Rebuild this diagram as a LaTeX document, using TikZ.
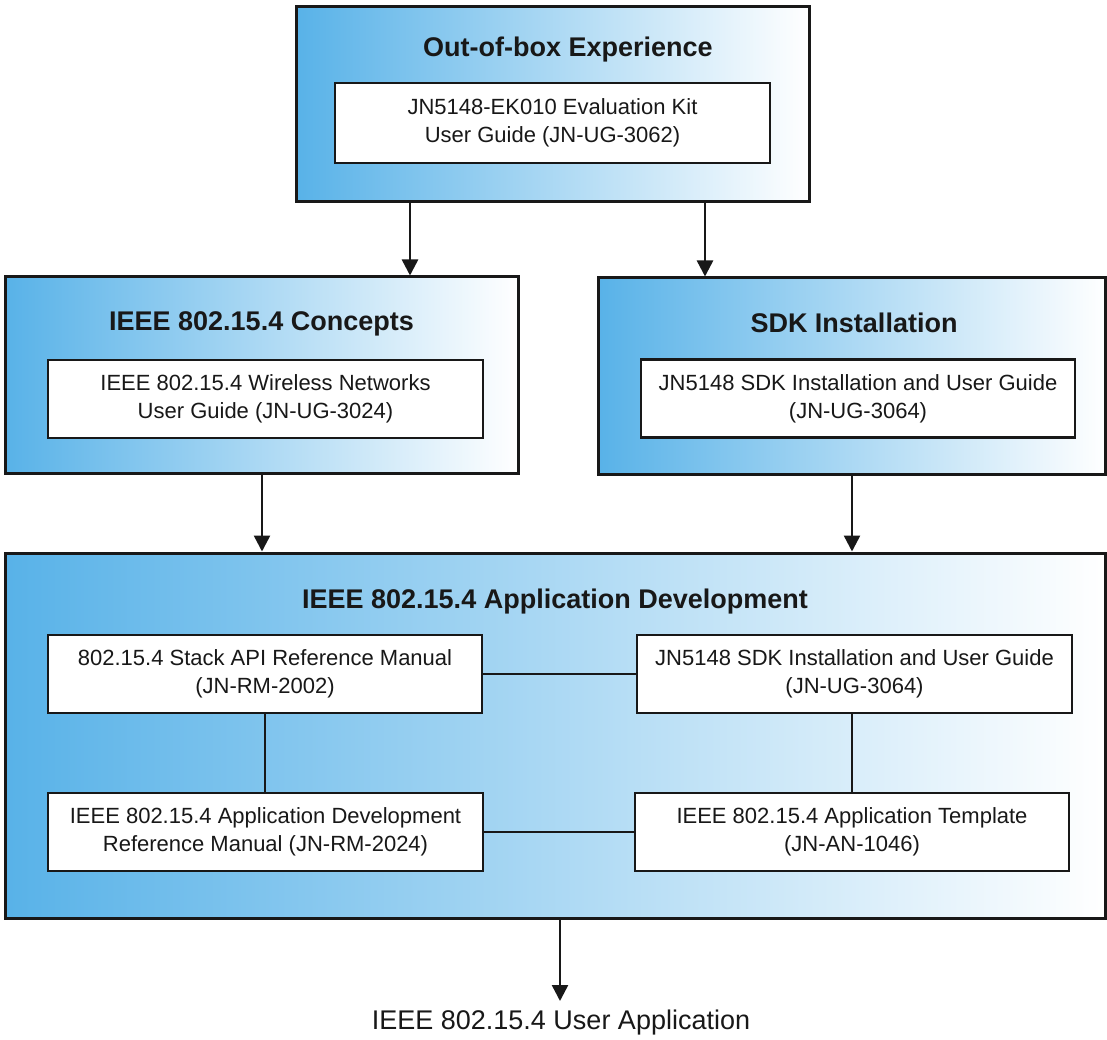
\documentclass[tikz,border=0pt]{standalone}
\usepackage{fontspec}
\setmainfont{Liberation Sans}
\usetikzlibrary{arrows.meta}
\definecolor{boxblue}{RGB}{88,178,232}
\definecolor{boxmid}{RGB}{172,216,245}
\definecolor{ink}{RGB}{24,24,24}
\begin{document}
\begin{tikzpicture}[x=1pt,y=-1pt,
  outerbox/.style={draw=ink, line width=3pt, left color=boxblue, middle color=boxmid, right color=white, inner sep=0pt},
  docbox/.style={draw=ink, line width=2.6pt, fill=white, inner sep=0pt, align=center, text=ink,
    font=\fontsize{22}{28}\selectfont, minimum height=78pt},
  titletext/.style={anchor=base, text=ink, inner sep=0pt, font=\fontsize{27}{32}\selectfont\bfseries},
  link/.style={draw=ink, line width=2.5pt},
  arr/.style={draw=ink, line width=2.5pt, -{Triangle[width=16pt,length=16pt]}}
]
\useasboundingbox (0,0) rectangle (1107,1040);
\fill[white] (0,0) rectangle (1107,1040);

% outer boxes
\node[outerbox, minimum width=513pt, minimum height=195pt] (oob) at (552.5,104.5) {};
\node[outerbox, minimum width=513pt, minimum height=196pt] (concepts) at (261.5,375) {};
\node[outerbox, minimum width=507pt, minimum height=196pt] (sdk) at (851.5,376) {};
\node[outerbox, minimum width=1100pt, minimum height=365pt] (appdev) at (555,735.5) {};

% titles
\node[titletext] (oobtitle) at (568,56.5) {Out-of-box Experience};
\node[titletext] (contitle) at (261.5,330) {IEEE 802.15.4 Concepts};
\node[titletext] (sdktitle) at (854,332) {SDK Installation};
\node[titletext] (apptitle) at (555,608.5) {IEEE 802.15.4 Application Development};

% document boxes
\node[docbox, minimum width=435pt, minimum height=80pt] (oobdoc) at (552.5,123) {JN5148-EK010 Evaluation Kit\\User Guide (JN-UG-3062)};
\node[docbox, minimum width=435pt] (wsn) at (265.5,399) {IEEE 802.15.4 Wireless Networks\\User Guide (JN-UG-3024)};
\node[docbox, minimum width=434pt] (sdkdoc) at (858,398.5) {JN5148 SDK Installation and User Guide\\(JN-UG-3064)};
\node[docbox, minimum width=434pt] (stack) at (265,674) {802.15.4 Stack API Reference Manual\\(JN-RM-2002)};
\node[docbox, minimum width=435pt] (sdkdoc2) at (854.5,674) {JN5148 SDK Installation and User Guide\\(JN-UG-3064)};
\node[docbox, minimum width=435pt] (adref) at (265.5,832) {IEEE 802.15.4 Application Development\\Reference Manual (JN-RM-2024)};
\node[docbox, minimum width=434pt] (templ) at (852,832) {IEEE 802.15.4 Application Template\\(JN-AN-1046)};

% output
\node[text=ink, inner sep=0pt, anchor=base, font=\fontsize{27}{32}\selectfont] (userapp) at (561,1029) {IEEE 802.15.4 User Application};

% arrow x positions
\coordinate (xa) at (410,0);
\coordinate (xb) at (705,0);
\coordinate (xc) at (262,0);
\coordinate (xd) at (852,0);
\coordinate (xe) at (560,0);
\coordinate (uatop) at (560,1001);

\draw[arr] (oob.south -| xa) -- (concepts.north -| xa);
\draw[arr] (oob.south -| xb) -- (sdk.north -| xb);
\draw[arr] (concepts.south -| xc) -- (appdev.north -| xc);
\draw[arr] (sdk.south -| xd) -- (appdev.north -| xd);
\draw[arr] (appdev.south -| xe) -- (uatop);

% links inside application development
\draw[link] (stack.east) -- (sdkdoc2.west);
\draw[link] (adref.east) -- (templ.west);
\draw[link] (stack.south) -- (stack.south |- adref.north);
\draw[link] (templ.north) -- (templ.north |- sdkdoc2.south);
\end{tikzpicture}
\end{document}
